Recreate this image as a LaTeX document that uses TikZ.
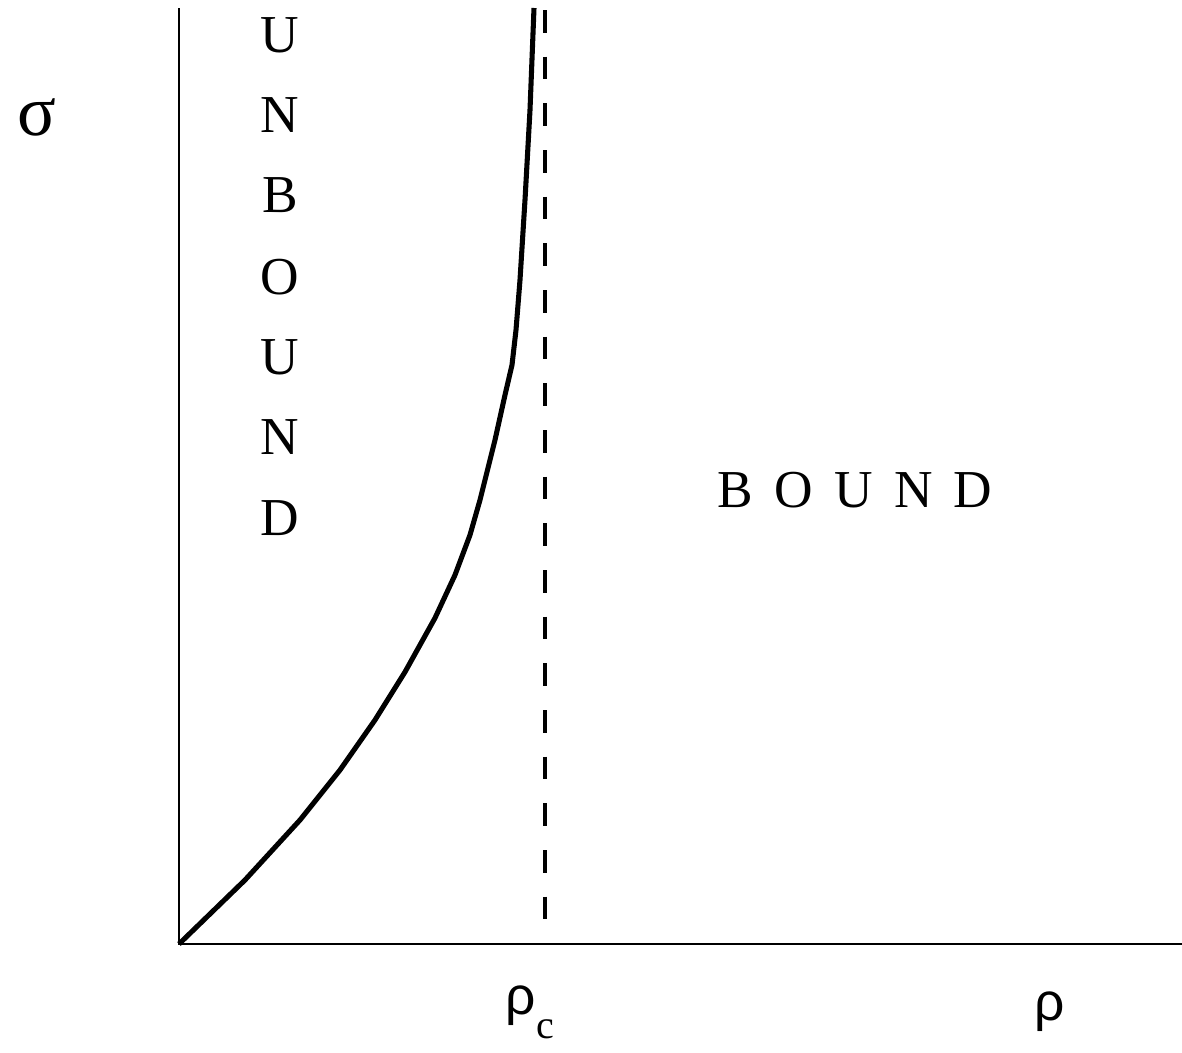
\documentclass[tikz,border=0pt]{standalone}
\usepackage{fontspec}
\setmainfont{Liberation Serif}
\newfontfamily\symsans{Liberation Sans}
\begin{document}
\begin{tikzpicture}[x=0.75pt,y=-0.75pt,
  lbl/.style={inner sep=0pt,font=\fontsize{40}{40}\selectfont},
  greek/.style={inner sep=0pt,font=\fontsize{40}{40}\selectfont},
  axis/.style={line width=1.5pt},
  curve/.style={line width=3.8pt,line join=round},
  crit/.style={line width=2.6pt,dash pattern=on 17pt off 18pt}]
\useasboundingbox (0,0) rectangle (1182,1053);
\coordinate (O) at (179,944);
\coordinate (ytop) at (179,8);
\coordinate (xend) at (1182,944);
\coordinate (ctop) at (545,10);
\coordinate (cbot) at (545,930);
\draw[axis] (ytop) -- (O) -- (xend);
\draw[crit] (ctop) -- (cbot);
\draw[curve] (O) -- (245,880) -- (300,820) -- (340,770) -- (375,720) -- (405,672)
  -- (435,618) -- (455,575) -- (470,535) -- (480,500) -- (495,440) -- (505,395)
  -- (512,365) -- (516,330) -- (520,280) -- (525,200) -- (530,110) -- (534,8);
\foreach \c/\y [count=\i] in {U/35,N/115,B/195,O/277,U/357,N/437,D/518}
  \node[lbl] (u\i) at (280,\y) {\c};
\node[lbl] (bound) at (855,490) {B\hspace{0.4em}O\hspace{0.4em}U\hspace{0.4em}N\hspace{0.4em}D};
\node[greek,font=\fontsize{54}{54}\selectfont] (sigma) at (37,117) {σ};
\node[greek] (rhoc) at (530,1012) {\symsans ρ\raisebox{-0.45em}{\rmfamily\fontsize{30}{30}\selectfont c}};
\node[greek] (rho) at (1050,1012) {\symsans ρ};
\end{tikzpicture}
\end{document}
